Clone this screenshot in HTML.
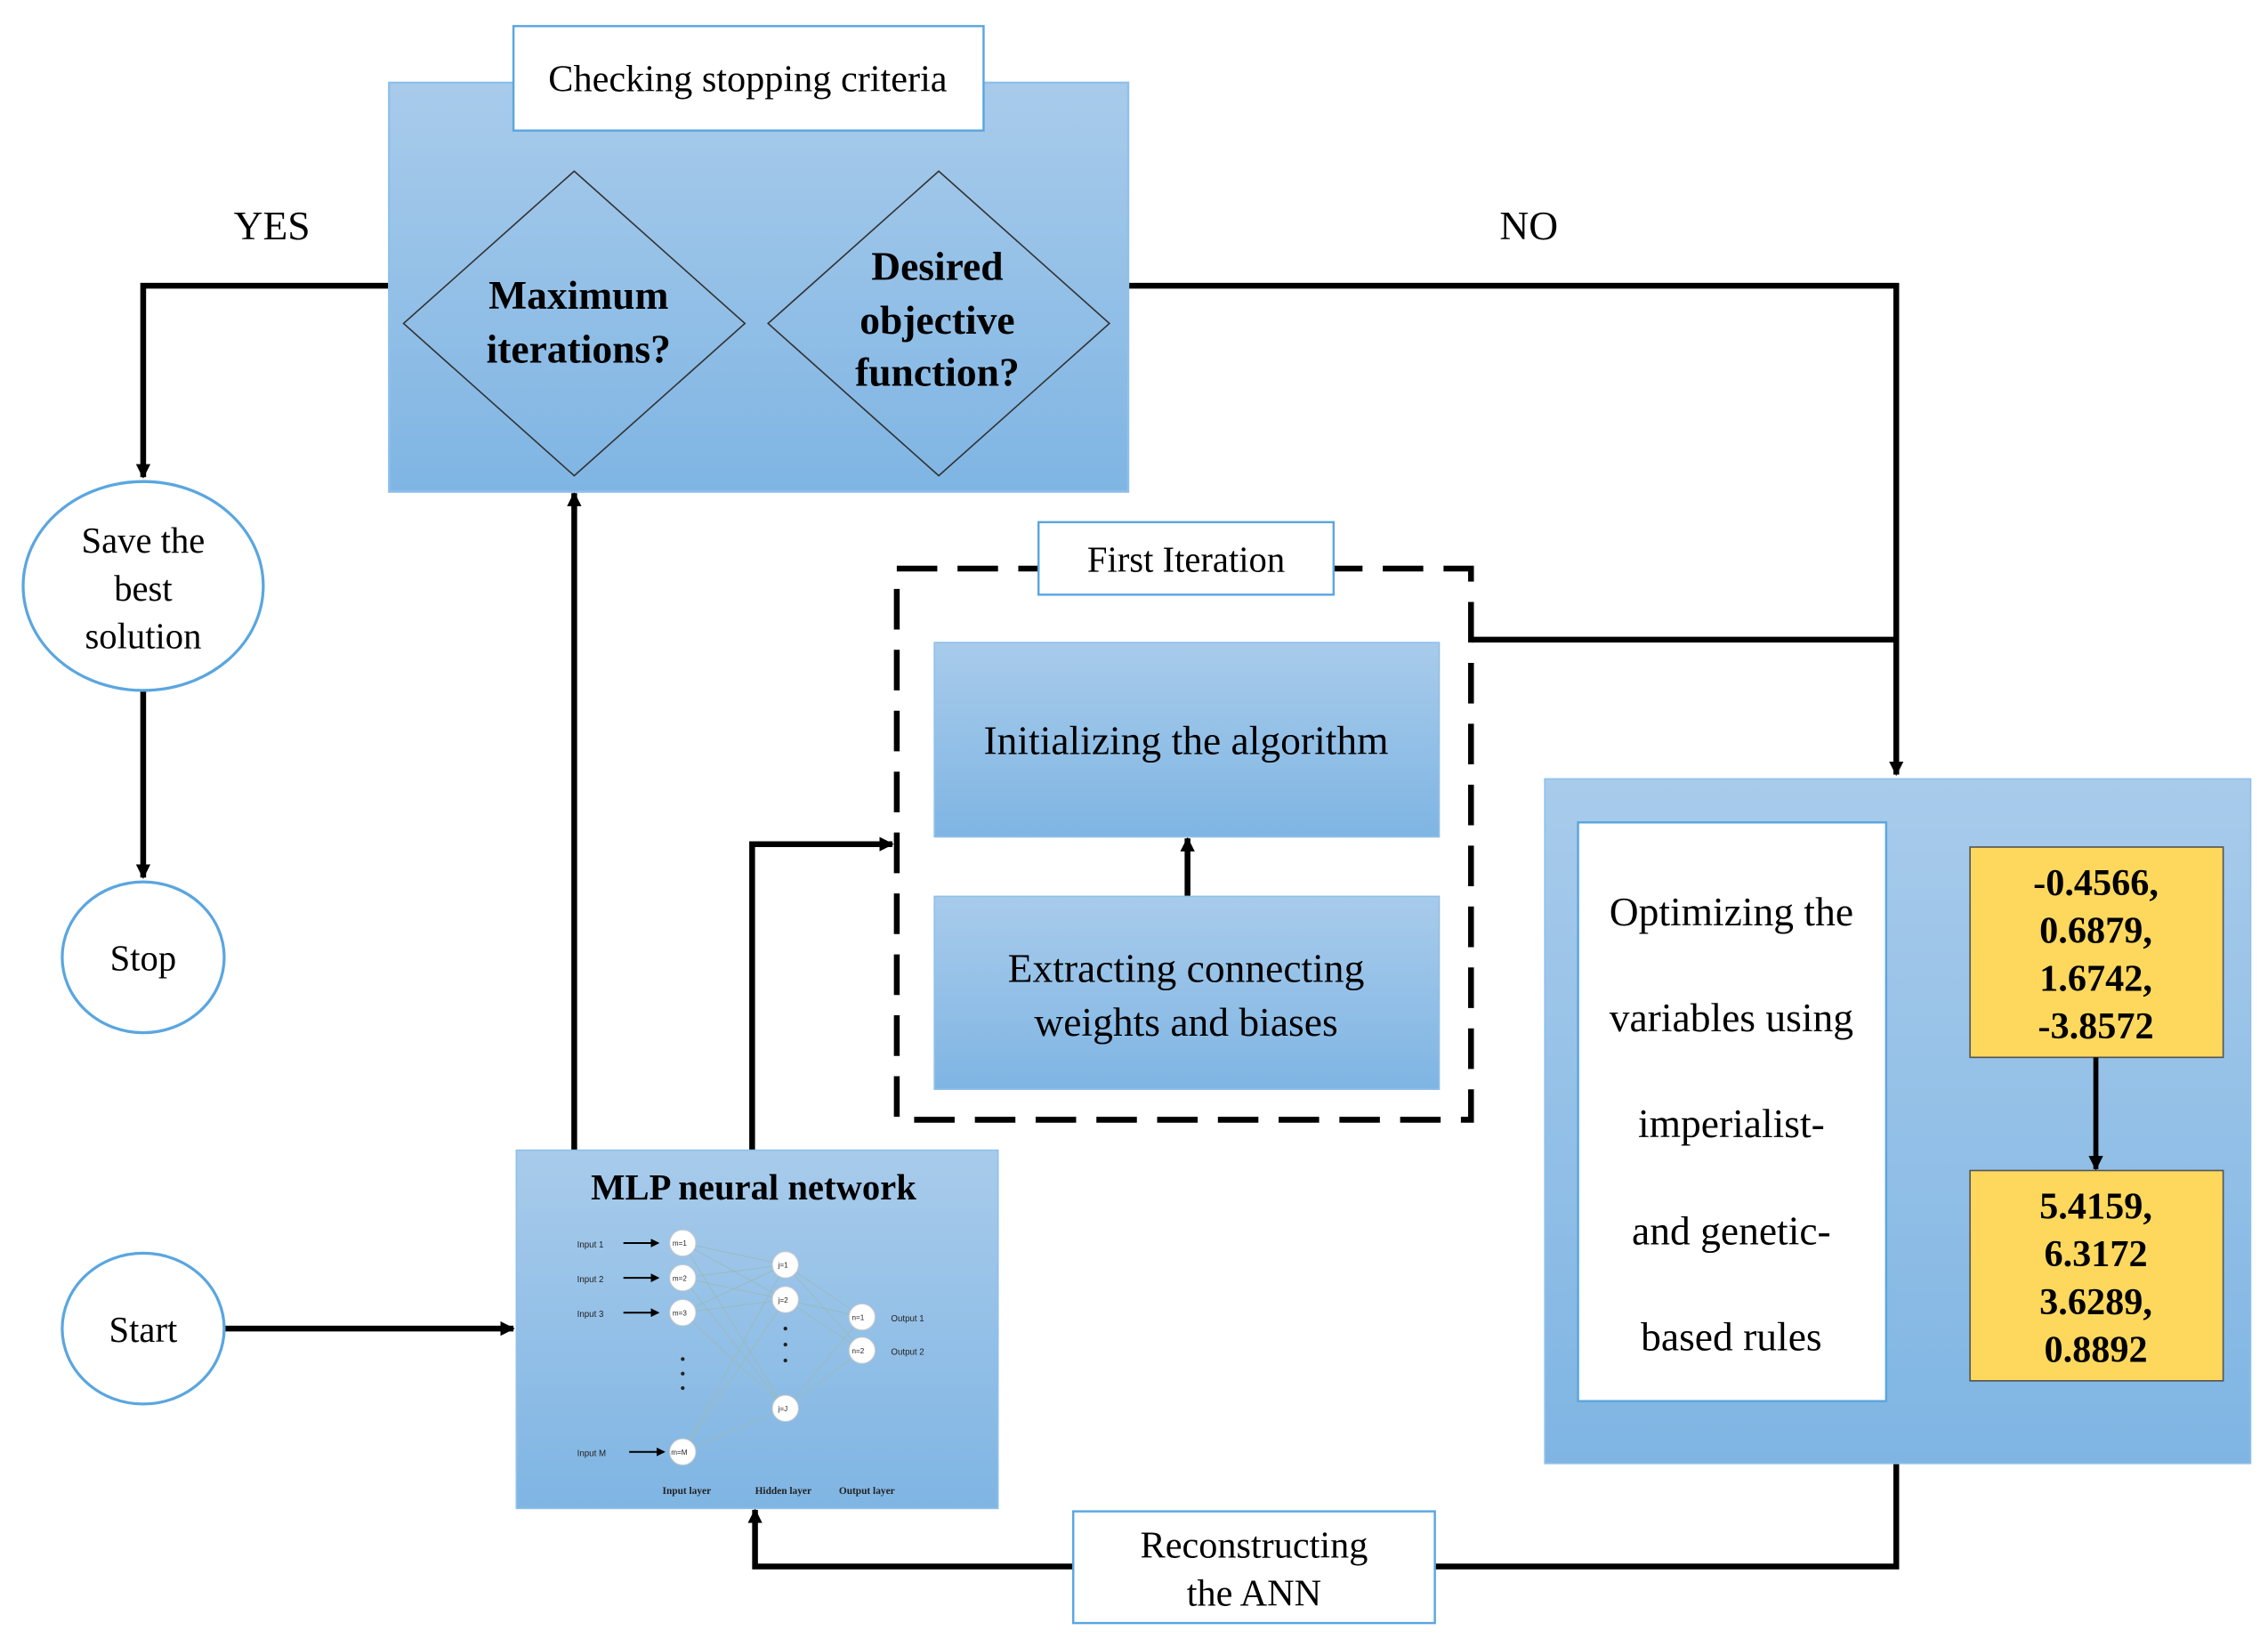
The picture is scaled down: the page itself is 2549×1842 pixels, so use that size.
<!DOCTYPE html>
<html><head><meta charset="utf-8"><style>html,body{margin:0;padding:0;background:#fff}svg{display:block}</style></head>
<body>
<svg width="2549" height="1842" viewBox="0 0 1568 1130" preserveAspectRatio="none" xmlns="http://www.w3.org/2000/svg" font-family="'Liberation Serif', serif">
<defs>
<linearGradient id="g" x1="0" y1="0" x2="0" y2="1"><stop offset="0" stop-color="#a8cbeb"/><stop offset="1" stop-color="#7fb5e3"/></linearGradient>
<marker id="a" markerWidth="10" markerHeight="10" refX="9" refY="5" orient="auto" markerUnits="userSpaceOnUse"><path d="M0,0 L10,5 L0,10 z" fill="#000"/></marker>
<marker id="s" markerWidth="6" markerHeight="6" refX="5" refY="3" orient="auto" markerUnits="userSpaceOnUse"><path d="M0,0 L6,3 L0,6 z" fill="#000"/></marker>
</defs>
<g stroke="#000" stroke-width="4" fill="none">
<polyline points="269,197 99,197 99,329" marker-end="url(#a)"/>
<polyline points="99,476 99,605" marker-end="url(#a)"/>
<polyline points="155,916 355,916" marker-end="url(#a)"/>
<polyline points="397,793 397,340" marker-end="url(#a)"/>
<polyline points="520,793 520,582 617,582" marker-end="url(#a)"/>
<polyline points="780,197 1311,197 1311,534" marker-end="url(#a)"/>
<polyline points="1017,441 1311,441"/>
<polyline points="821,618 821,578" marker-end="url(#a)"/>
<polyline points="1311,1009 1311,1080 522,1080 522,1041" marker-end="url(#a)"/>
</g>
<rect x="269" y="57" width="511" height="282" fill="url(#g)" stroke="#8fc0ea" stroke-width="1.5"/>
<rect x="355" y="18" width="325" height="72" fill="#fff" stroke="#5aa6e0" stroke-width="1.5"/>
<text x="517" y="63" font-size="26" text-anchor="middle">Checking stopping criteria</text>
<polygon points="397,118 515,223 397,328 279,223" fill="none" stroke="#333" stroke-width="1"/>
<polygon points="649,118 767,223 649,328 531,223" fill="none" stroke="#333" stroke-width="1"/>
<g font-size="28" font-weight="bold" text-anchor="middle">
<text x="400" y="213">Maximum</text><text x="400" y="250">iterations?</text>
<text x="648" y="193">Desired</text><text x="648" y="230">objective</text><text x="648" y="266">function?</text>
</g>
<text x="188" y="165" font-size="28" text-anchor="middle">YES</text>
<text x="1057" y="165" font-size="28" text-anchor="middle">NO</text>
<g fill="#fff" stroke="#5aa6e0" stroke-width="2">
<ellipse cx="99" cy="404" rx="83" ry="72"/>
<ellipse cx="99" cy="660" rx="56" ry="52"/>
<ellipse cx="99" cy="916" rx="56" ry="52"/>
</g>
<g font-size="25" text-anchor="middle">
<text x="99" y="381">Save the</text><text x="99" y="414">best</text><text x="99" y="447">solution</text>
<text x="99" y="669">Stop</text><text x="99" y="925">Start</text>
</g>
<rect x="620" y="392" width="397" height="380" fill="none" stroke="#000" stroke-width="4" stroke-dasharray="28,14"/>
<rect x="718" y="360" width="204" height="50" fill="#fff" stroke="#5aa6e0" stroke-width="1.5"/>
<text x="820" y="394" font-size="25" text-anchor="middle">First Iteration</text>
<rect x="646" y="443" width="349" height="134" fill="url(#g)" stroke="#8fc0ea"/>
<rect x="646" y="618" width="349" height="133" fill="url(#g)" stroke="#8fc0ea"/>
<g font-size="28" text-anchor="middle">
<text x="820" y="520">Initializing the algorithm</text>
<text x="820" y="677">Extracting connecting</text><text x="820" y="714">weights and biases</text>
</g>
<rect x="357" y="793" width="333" height="247" fill="url(#g)" stroke="#8fc0ea"/>
<text x="521" y="827" font-size="25" font-weight="bold" text-anchor="middle">MLP neural network</text>
<g stroke="#9bb" stroke-width="0.6">
<path d="M472,857 L543,872 M472,857 L543,896 M472,857 L543,971 M472,881 L543,872 M472,881 L543,896 M472,881 L543,971 M472,905 L543,872 M472,905 L543,896 M472,905 L543,971 M472,1001 L543,872 M472,1001 L543,896 M472,1001 L543,971 M543,872 L596,908 M543,872 L596,931 M543,896 L596,908 M543,896 L596,931 M543,971 L596,908 M543,971 L596,931"/>
</g>
<g stroke="#000" stroke-width="1.2">
<line x1="431" y1="857" x2="455" y2="857" marker-end="url(#s)"/>
<line x1="431" y1="881" x2="455" y2="881" marker-end="url(#s)"/>
<line x1="431" y1="905" x2="455" y2="905" marker-end="url(#s)"/>
<line x1="435" y1="1001" x2="459" y2="1001" marker-end="url(#s)"/>
</g>
<g fill="#fff" stroke="#ccc" stroke-width="0.6">
<circle cx="472" cy="857" r="9"/><circle cx="472" cy="881" r="9"/><circle cx="472" cy="905" r="9"/><circle cx="472" cy="1001" r="9"/>
<circle cx="543" cy="872" r="9"/><circle cx="543" cy="896" r="9"/><circle cx="543" cy="971" r="9"/>
<circle cx="596" cy="908" r="9"/><circle cx="596" cy="931" r="9"/>
</g>
<g fill="#222">
<circle cx="472" cy="937" r="1.3"/><circle cx="472" cy="947" r="1.3"/><circle cx="472" cy="957" r="1.3"/>
<circle cx="543" cy="916" r="1.3"/><circle cx="543" cy="927" r="1.3"/><circle cx="543" cy="938" r="1.3"/>
</g>
<g font-size="6" font-family="'Liberation Sans', sans-serif" fill="#222">
<text x="399" y="860">Input 1</text><text x="399" y="884">Input 2</text><text x="399" y="908">Input 3</text><text x="399" y="1004">Input M</text>
<text x="616" y="911">Output 1</text><text x="616" y="934">Output 2</text>
<text x="465" y="859" font-size="5">m=1</text><text x="465" y="883" font-size="5">m=2</text><text x="465" y="907" font-size="5">m=3</text><text x="464" y="1003" font-size="5">m=M</text>
<text x="538" y="874" font-size="5">j=1</text><text x="538" y="898" font-size="5">j=2</text><text x="538" y="973" font-size="5">j=J</text>
<text x="589" y="910" font-size="5">n=1</text><text x="589" y="933" font-size="5">n=2</text>
</g>
<g font-size="7" font-weight="bold" fill="#222">
<text x="458" y="1030">Input layer</text><text x="522" y="1030">Hidden layer</text><text x="580" y="1030">Output layer</text>
</g>
<rect x="1068" y="537" width="488" height="472" fill="url(#g)" stroke="#8fc0ea"/>
<rect x="1091" y="567" width="213" height="399" fill="#fff" stroke="#5aa6e0" stroke-width="1.5"/>
<g font-size="28" text-anchor="middle">
<text x="1197" y="638">Optimizing the</text><text x="1197" y="711">variables using</text><text x="1197" y="784">imperialist-</text><text x="1197" y="858">and genetic-</text><text x="1197" y="931">based rules</text>
</g>
<rect x="1362" y="584" width="175" height="145" fill="#fdd85c" stroke="#555" stroke-width="1"/>
<rect x="1362" y="807" width="175" height="145" fill="#fdd85c" stroke="#555" stroke-width="1"/>
<line x1="1449" y1="729" x2="1449" y2="806" stroke="#000" stroke-width="3.5" marker-end="url(#a)"/>
<g font-size="26" font-weight="bold" text-anchor="middle">
<text x="1449" y="617">-0.4566,</text><text x="1449" y="650">0.6879,</text><text x="1449" y="683">1.6742,</text><text x="1449" y="716">-3.8572</text>
<text x="1449" y="840">5.4159,</text><text x="1449" y="873">6.3172</text><text x="1449" y="906">3.6289,</text><text x="1449" y="939">0.8892</text>
</g>
<rect x="742" y="1042" width="250" height="77" fill="#fff" stroke="#5aa6e0" stroke-width="1.5"/>
<g font-size="26" text-anchor="middle"><text x="867" y="1074">Reconstructing</text><text x="867" y="1107">the ANN</text></g>
</svg>
</body></html>
